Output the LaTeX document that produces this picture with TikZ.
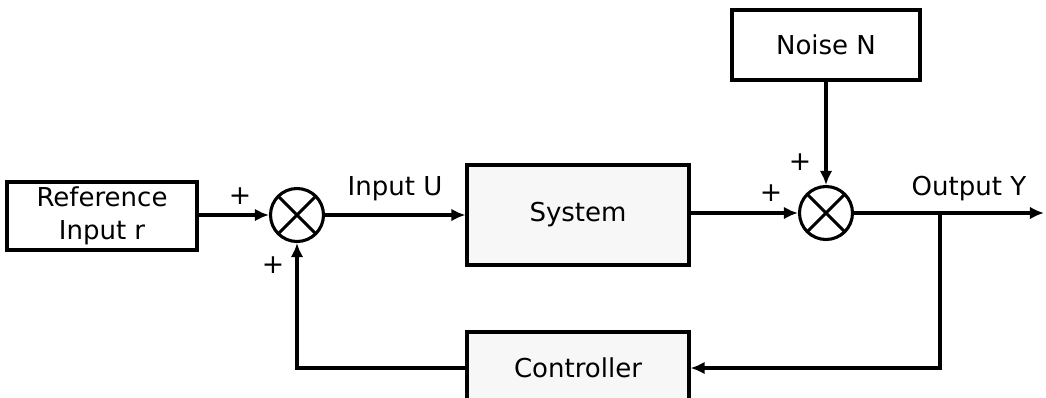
\documentclass[tikz,border=0pt]{standalone}
\usepackage{fontspec}
\setmainfont{DejaVu Sans}
\usepackage{tikz}
\usetikzlibrary{arrows.meta,calc,positioning}
\usepackage{xcolor}
\newcommand{\myunit}{0.025cm}
\colorlet{specklegray}{gray!6}
\tikzset{
    blocksty/.style={draw,fill=white,rectangle,line width=2.2pt,align=center,font=\fontsize{18.5}{23.5}\selectfont},
    grblocksty/.style={blocksty,fill=specklegray},
    sumsty/.style={draw,circle,fill=white,line width=2.2pt,minimum size=53*\myunit,inner sep=0pt,
        path picture={\draw[line width=2.2pt] (path picture bounding box.north west) -- (path picture bounding box.south east)
                      (path picture bounding box.north east) -- (path picture bounding box.south west);}},
    sgnsty/.style={font=\fontsize{19}{20}\selectfont,inner sep=0pt},
    lblsty/.style={font=\fontsize{18.5}{20}\selectfont,inner sep=0pt},
    wiresty/.style={line width=2.2pt},
}

\begin{document}
\begin{tikzpicture}[>={Latex[length=10pt,width=9pt]}, x=\myunit, y=-\myunit]
\useasboundingbox (0,0) rectangle (1046,397);

% blocks
\node[blocksty, minimum width=190*\myunit, minimum height=68*\myunit, inner sep=1pt] (ref) at (102,216) {Reference\\Input r};
\node[blocksty, minimum width=188*\myunit, minimum height=70*\myunit] (noise) at (826,45) {Noise N};
\node[grblocksty, minimum width=222*\myunit, minimum height=100*\myunit] (sys) at (578,215) {System};
\node[grblocksty, minimum width=222*\myunit, minimum height=72*\myunit] (ctrl) at (578,368) {Controller};

% summing points
\node[sumsty] (sumA) at (297,215) {};
\node[sumsty] (sumB) at (826,213) {};

% signs and labels
\node[sgnsty] (pA1) at (240,196) {+};
\node[sgnsty] (pA2) at (273,265) {+};
\node[sgnsty] (pB1) at (800,162) {+};
\node[sgnsty] (pB2) at (771,193) {+};
\node[lblsty] (inU) at (395,189) {Input U};
\node[lblsty] (outY) at (969,189) {Output Y};

\coordinate (brch) at (940,213);
\coordinate (outend) at (1044,213);

% connectors
\draw[wiresty,->] (ref.east |- sumA) -- (sumA.west);
\draw[wiresty,->] (sumA.east) -- (sumA.east -| sys.west);
\draw[wiresty,->] (sys.east |- sumB) -- (sumB.west);
\draw[wiresty,->] (noise.south) -- (sumB.north);
\draw[wiresty,->] (sumB.east) -- (outend);
\draw[wiresty,->] (brch) |- (ctrl.east);
\draw[wiresty,->] (ctrl.west) -| (sumA.south);
\end{tikzpicture}
\end{document}
